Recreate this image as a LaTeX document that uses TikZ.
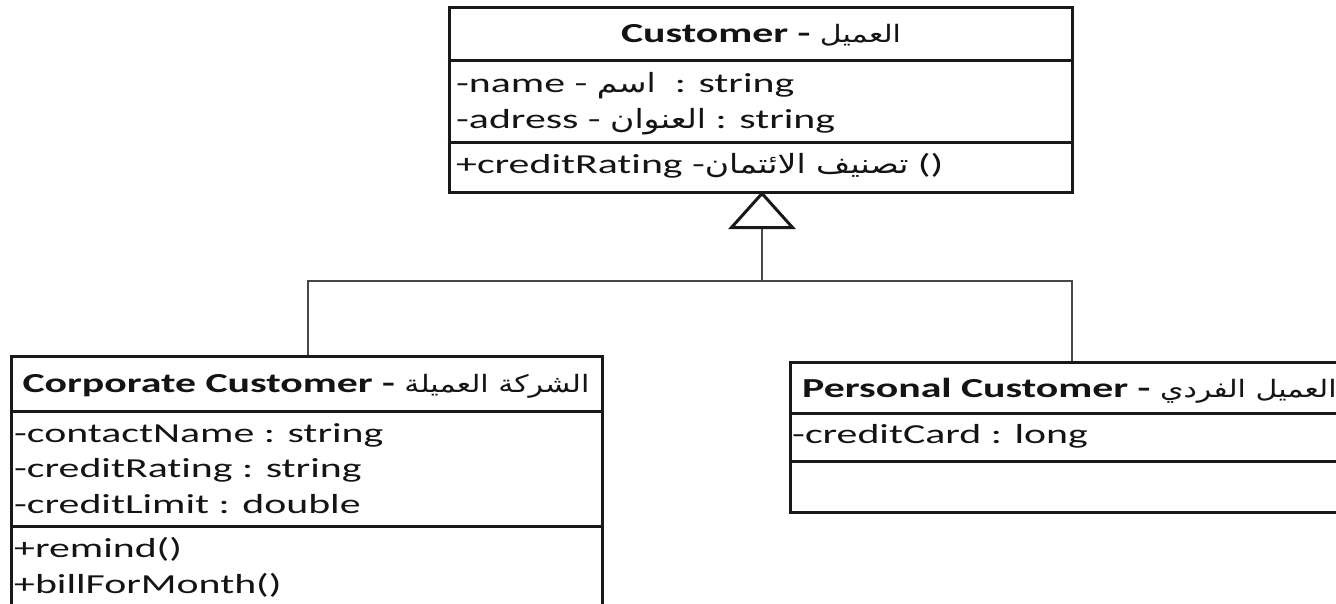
\documentclass[tikz,border=0pt]{standalone}
\usepackage{fontspec}
\setmainfont{Carlito}[FakeStretch=1.52, Ligatures={NoCommon}]
\newfontfamily\arabicfont[Script=Arabic,FakeStretch=1.25]{DejaVu Sans}
\TeXXeTstate=1
\usetikzlibrary{calc}

\tikzset{
  classbox/.style={draw=black!90, line width=3pt, fill=white, inner sep=0pt},
  compartment/.style={draw=black!90, line width=3pt},
  link/.style={draw=black!72, line width=2pt},
  gentip/.style={draw=black!90, line width=3pt, fill=white, line join=miter},
  txt/.style={inner sep=0pt, text=black!92, font=\fontsize{27.5}{33}\selectfont},
  boldtxt/.style={txt, font=\fontsize{27.5}{33}\selectfont\bfseries},
}
% Arabic runs: class titles and member lines
\newcommand{\arh}[1]{{\arabicfont\mdseries\fontsize{24}{30}\selectfont\beginR #1\endR}}
\newcommand{\ar}[1]{{\arabicfont\mdseries\fontsize{26.5}{30}\selectfont\beginR #1\endR}}

\begin{document}
\begin{tikzpicture}[x=1pt, y=-1pt]
  \useasboundingbox (0,0) rectangle (1336,603);
  \fill[white] (0,0) rectangle (1336,603);
  \clip (0,0) rectangle (1336,603);

  % class boxes
  \node[classbox, minimum width=623pt, minimum height=185pt] (cust) at (760.5,99.5) {};
  \node[classbox, minimum width=591pt, minimum height=290pt] (corp) at (306.5,501) {};
  \node[classbox, minimum width=564pt, minimum height=150pt] (pers) at (1072,437) {};

  % compartment separators
  \draw[compartment] ([yshift=-55pt]cust.north west) -- ([yshift=-55pt]cust.north east);
  \draw[compartment] ([yshift=-137pt]cust.north west) -- ([yshift=-137pt]cust.north east);
  \draw[compartment] ([yshift=-57pt]corp.north west) -- ([yshift=-57pt]corp.north east);
  \draw[compartment] ([yshift=-172pt]corp.north west) -- ([yshift=-172pt]corp.north east);
  \draw[compartment] ([yshift=-53pt]pers.north west) -- ([yshift=-53pt]pers.north east);
  \draw[compartment] ([yshift=-101pt]pers.north west) -- ([yshift=-101pt]pers.north east);

  % generalization: shared bus line and hollow triangle
  \coordinate (apex) at ([xshift=1.5pt]cust.south);
  \coordinate (tribase) at ([yshift=-34pt]apex);
  \coordinate (bus) at ([yshift=-87pt]apex);
  \coordinate (corpup) at ([xshift=1.5pt]corp.north);
  \draw[link] (tribase) -- (bus);
  \draw[link] (corpup) |- (bus) -| (pers.north);
  \draw[gentip] (apex) -- ++(-30.5,34) -- ++(61,0) -- cycle;

  % Customer
  \node[boldtxt, anchor=base] (custname) at (761,42) {Customer - \arh{العميل}};
  \node[txt, anchor=base west] (custattrA) at (456,92) {-name - \ar{اسم}\ \ : string};
  \node[txt, anchor=base west] (custattrB) at (456,128) {-adress - \ar{العنوان} : string};
  \node[txt, anchor=base west] (custop) at (456,173) {+creditRating -\ar{تصنيف الائتمان} ()};

  % Corporate Customer
  \node[boldtxt, anchor=base] (corpname) at (306,392) {Corporate Customer - \arh{الشركة العميلة}};
  \node[txt, anchor=base west] (corpattrA) at (14,442) {-contactName : string};
  \node[txt, anchor=base west] (corpattrB) at (14,477) {-creditRating : string};
  \node[txt, anchor=base west] (corpattrC) at (14,513) {-creditLimit : double};
  \node[txt, anchor=base west] (corpopA) at (14,557) {+remind()};
  \node[txt, anchor=base west] (corpopB) at (14,593) {+billForMonth()};

  % Personal Customer
  \node[boldtxt, anchor=base west] (persname) at (802,397) {Personal Customer - \arh{العميل الفردي}};
  \node[txt, anchor=base west] (persattr) at (792,443) {-creditCard : long};
\end{tikzpicture}
\end{document}
